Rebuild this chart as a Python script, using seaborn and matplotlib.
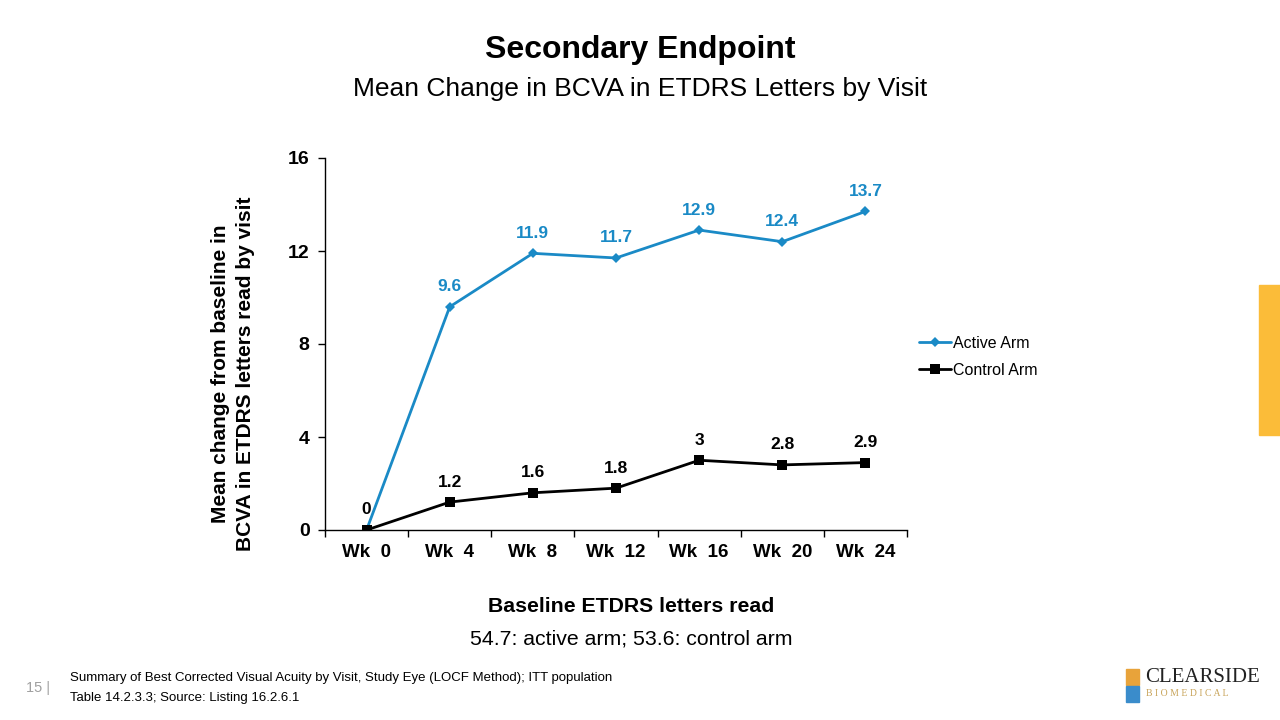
import matplotlib
matplotlib.use("Agg")
import matplotlib.pyplot as plt
import seaborn as sns
import pandas as pd
import numpy as np
from matplotlib.patches import Rectangle

weeks = ["Wk 0", "Wk 4", "Wk 8", "Wk 12", "Wk 16", "Wk 20", "Wk 24"]
active = [0, 9.6, 11.9, 11.7, 12.9, 12.4, 13.7]
control = [0, 1.2, 1.6, 1.8, 3, 2.8, 2.9]
active_labels = ["", "9.6", "11.9", "11.7", "12.9", "12.4", "13.7"]
control_labels = ["0", "1.2", "1.6", "1.8", "3", "2.8", "2.9"]
y_ticks = [0, 4, 8, 12, 16]

sns.set_theme(style="white")
plt.rcParams['font.family'] = ['Liberation Sans', 'DejaVu Sans']
plt.rcParams['text.color'] = 'black'
plt.rcParams['axes.labelcolor'] = 'black'
plt.rcParams['xtick.color'] = 'black'
plt.rcParams['ytick.color'] = 'black'

BLUE = "#1a8ac6"
fig = plt.figure(figsize=(12.8, 7.2), dpi=100)
ax = fig.add_axes([325/1280, 1-530/720, (907-325)/1280, (530-158)/720])

pos = np.arange(len(weeks))
df = pd.DataFrame({"pos": np.concatenate([pos, pos]),
                   "val": active + control,
                   "arm": ["Active Arm"]*len(weeks) + ["Control Arm"]*len(weeks)})
sns.lineplot(data=df, x="pos", y="val", hue="arm", style="arm",
             palette={"Active Arm": BLUE, "Control Arm": "black"},
             markers={"Active Arm": "D", "Control Arm": "s"},
             dashes=False, linewidth=2, ax=ax, markeredgewidth=0)
for line in ax.lines:
    if line.get_marker() == "D":
        line.set_markersize(5)
    elif line.get_marker() == "s":
        line.set_markersize(7)

ax.set_xlim(-0.5, len(weeks)-0.5)
ax.set_ylim(0, 16)
ax.set_yticks(y_ticks)
ax.set_yticklabels([str(t) for t in y_ticks], fontsize=14, fontweight="bold")
ax.set_xticks(pos)
ax.set_xticklabels([w.replace(" ", "  ") for w in weeks], fontsize=13.5, fontweight="bold")
ax.tick_params(axis="x", length=0, pad=10)
ax.set_xticks(np.arange(-0.5, len(weeks)), minor=True)
ax.tick_params(axis="x", which="minor", length=5, direction="out", width=1, color="black", bottom=True)
ax.tick_params(axis="y", length=5, direction="out", width=1, color="black", left=True, pad=6)
for s in ["top", "right"]:
    ax.spines[s].set_visible(False)
for s in ["left", "bottom"]:
    ax.spines[s].set_color("black")
    ax.spines[s].set_linewidth(1)
ax.set_xlabel("")
ax.set_ylabel("Mean change from baseline in\nBCVA in ETDRS letters read by visit",
              fontsize=15, fontweight="bold", linespacing=1.4)
ax.yaxis.set_label_coords(-0.12, 0.42)

for i, (v, lab) in enumerate(zip(active, active_labels)):
    if lab:
        ax.annotate(lab, (i, v), xytext=(0, 9), textcoords="offset points",
                    ha="center", va="bottom", fontsize=12.5, fontweight="bold", color=BLUE)
for i, (v, lab) in enumerate(zip(control, control_labels)):
    ax.annotate(lab, (i, v), xytext=(0, 9), textcoords="offset points",
                ha="center", va="bottom", fontsize=12.5, fontweight="bold", color="black")

handles, labels = ax.get_legend_handles_labels()
ax.legend(handles, labels, loc="center left", bbox_to_anchor=(905/1280, 1-357/720),
          bbox_transform=fig.transFigure, frameon=False, fontsize=11.5,
          handlelength=2.0, handletextpad=0.1, labelspacing=0.75)

fig.text(0.5, 1-50/720, "Secondary Endpoint", ha="center", va="center",
         fontsize=23, fontweight="bold")
fig.text(0.5, 1-89/720, "Mean Change in BCVA in ETDRS Letters by Visit", ha="center",
         va="center", fontsize=19)
fig.text(631/1280, 1-606/720, "Baseline ETDRS letters read", ha="center", va="center",
         fontsize=15.3, fontweight="bold")
fig.text(631/1280, 1-639/720, "54.7: active arm; 53.6: control arm", ha="center",
         va="center", fontsize=15.3)
fig.text(70/1280, 1-678/720,
         "Summary of Best Corrected Visual Acuity by Visit, Study Eye (LOCF Method); ITT population",
         ha="left", va="center", fontsize=9.5)
fig.text(70/1280, 1-698/720, "Table 14.2.3.3; Source: Listing 16.2.6.1",
         ha="left", va="center", fontsize=9.5)
fig.text(26/1280, 1-688/720, "15 |", ha="left", va="center", fontsize=10.5, color="#a0a0a0")

fig.patches.append(Rectangle((1259/1280, 1-435/720), 21/1280, 150/720,
                             transform=fig.transFigure, color="#fbbc39", zorder=0))
# logo
fig.text(1145/1280, 1-677/720, "CLEARSIDE", ha="left", va="center", fontsize=15,
         family="Liberation Serif", color="#222222")
fig.text(1146/1280, 1-694/720, "B I O M E D I C A L", ha="left", va="center", fontsize=7,
         family="Liberation Serif", color="#c8a45a")
fig.patches.append(Rectangle((1126/1280, 1-685/720), 13/1280, 16/720,
                             transform=fig.transFigure, color="#e8a33a"))
fig.patches.append(Rectangle((1126/1280, 1-702/720), 13/1280, 16/720,
                             transform=fig.transFigure, color="#3a8ccb"))

fig.savefig("out.png", dpi=100)
